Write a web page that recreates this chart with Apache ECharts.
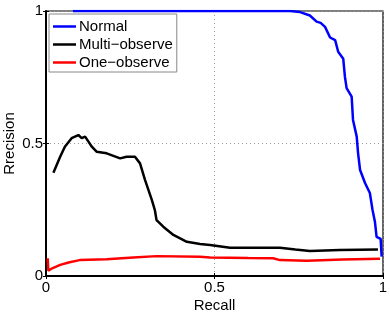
<!DOCTYPE html>
<html><head><meta charset="utf-8">
<script src="https://cdn.jsdelivr.net/npm/echarts@6/dist/echarts.min.js"></script>
<style>html,body{margin:0;padding:0;background:#fff}#c{width:390px;height:313px}</style>
</head><body><div id="c"></div>
<script>
const seriesNames = ['Normal', 'Multi\u2212observe', 'One\u2212observe'];
const xTicks = ['0', '0.5', '1'];
const yTicks = ['0', '0.5', '1'];
const normalRecall = [0.08, 0.30, 0.50, 0.724, 0.754, 0.783, 0.803, 0.815, 0.828, 0.843, 0.858, 0.867, 0.882, 0.887, 0.892, 0.907, 0.911, 0.922, 0.926, 0.932, 0.947, 0.961, 0.969, 0.976, 0.981, 0.993, 0.996];
const normalPrecision = [1, 1, 1, 1, 0.996, 0.983, 0.96, 0.955, 0.94, 0.90, 0.89, 0.846, 0.82, 0.752, 0.709, 0.677, 0.589, 0.526, 0.464, 0.40, 0.35, 0.313, 0.249, 0.205, 0.148, 0.14, 0.073];
const multiRecall = [0.022, 0.042, 0.056, 0.076, 0.096, 0.106, 0.116, 0.126, 0.136, 0.150, 0.18, 0.22, 0.239, 0.264, 0.279, 0.294, 0.314, 0.323, 0.328, 0.348, 0.378, 0.418, 0.457, 0.487, 0.546, 0.62, 0.694, 0.74, 0.783, 0.872, 0.985];
const multiPrecision = [0.39, 0.45, 0.488, 0.52, 0.532, 0.52, 0.526, 0.507, 0.488, 0.469, 0.463, 0.444, 0.45, 0.45, 0.425, 0.362, 0.287, 0.249, 0.211, 0.186, 0.155, 0.129, 0.121, 0.117, 0.107, 0.107, 0.107, 0.10, 0.094, 0.098, 0.10];
const oneRecall = [0.005, 0.007, 0.02, 0.042, 0.07, 0.1, 0.18, 0.259, 0.328, 0.457, 0.487, 0.60, 0.674, 0.694, 0.774, 0.88, 0.991];
const onePrecision = [0.067, 0.02, 0.03, 0.042, 0.052, 0.06, 0.063, 0.07, 0.075, 0.073, 0.07, 0.068, 0.067, 0.06, 0.058, 0.062, 0.065];
const colors = ['#0000ff', '#000000', '#ff0000'];

function pairs(xs, ys) { return xs.map((x, i) => [x, ys[i]]); }
const chart = echarts.init(document.getElementById('c'), null, {renderer: 'canvas'});
const font = 'Liberation Sans';
const lab = v => v === 0 ? xTicks[0] : (v === 0.5 ? xTicks[1] : xTicks[2]);
const laby = v => v === 0 ? yTicks[0] : (v === 0.5 ? yTicks[1] : yTicks[2]);
const tick = {show: true, inside: true, length: 3, lineStyle: {color: '#000'}};
const split = {show: true, lineStyle: {color: '#999', type: [1, 3], width: 1}};
chart.setOption({
  animation: false,
  grid: {left: 46, right: 7, top: 11, bottom: 37, show: true, borderColor: '#000', borderWidth: 1.2, backgroundColor: 'transparent', containLabel: false, outerBoundsMode: 'none'},
  xAxis: [{type: 'value', min: 0, max: 1, interval: 0.5,
    name: 'Recall', nameLocation: 'middle', nameGap: 22, nameMoveOverlap: false,
    nameTextStyle: {fontFamily: font, fontSize: 15, color: '#000'},
    axisLine: {show: true, lineStyle: {color: '#000', width: 2}},
    axisTick: tick,
    axisLabel: {fontFamily: font, fontSize: 15, color: '#000', margin: 4, formatter: lab},
    splitLine: split},
   {type: 'value', position: 'top', min: 0, max: 1, interval: 0.5,
    axisLine: {show: false}, axisTick: tick, axisLabel: {show: false}, splitLine: {show: false}}],
  yAxis: [{type: 'value', min: 0, max: 1, interval: 0.5,
    name: 'Rrecision', nameLocation: 'middle', nameGap: 29, nameMoveOverlap: false,
    nameTextStyle: {fontFamily: font, fontSize: 15, color: '#000'},
    axisLine: {show: true, lineStyle: {color: '#000', width: 2}},
    axisTick: tick,
    axisLabel: {fontFamily: font, fontSize: 15, color: '#000', margin: 3, formatter: laby},
    splitLine: split},
   {type: 'value', position: 'right', min: 0, max: 1, interval: 0.5,
    axisLine: {show: false}, axisTick: tick, axisLabel: {show: false}, splitLine: {show: false}}],
  legend: {show: true, orient: 'vertical', left: 49, top: 14, data: seriesNames.map(n => ({name: n, icon: 'rect'})),
    itemWidth: 23, itemHeight: 2.5, itemGap: 3,
    backgroundColor: '#fff', borderColor: '#888', borderWidth: 1, borderRadius: 0, padding: [5, 4, 2, 4],
    textStyle: {fontFamily: font, fontSize: 15, color: '#000', padding: [0, 0, 0, -2], lineHeight: 15}},
  series: [
    {name: seriesNames[0], type: 'line', data: pairs(normalRecall, normalPrecision), showSymbol: false, lineStyle: {color: colors[0], width: 2.5}, itemStyle: {color: colors[0]}, z: 3},
    {name: seriesNames[1], type: 'line', data: pairs(multiRecall, multiPrecision), showSymbol: false, lineStyle: {color: colors[1], width: 2.5}, itemStyle: {color: colors[1]}, z: 2},
    {name: seriesNames[2], type: 'line', data: pairs(oneRecall, onePrecision), showSymbol: false, lineStyle: {color: colors[2], width: 2.5}, itemStyle: {color: colors[2]}, z: 2}
  ]
});
</script></body></html>
